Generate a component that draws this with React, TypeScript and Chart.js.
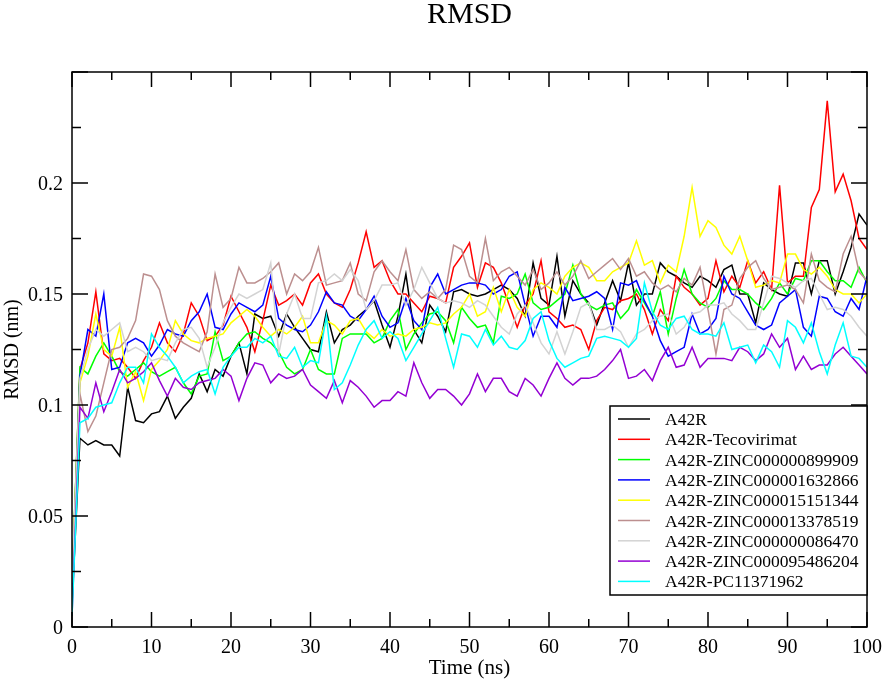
import { useEffect, useRef } from "react";
import { Chart, registerables } from "chart.js";

Chart.register(...registerables);

const timeNs = [
  0, 1, 2, 3, 4, 5, 6, 7, 8, 9, 10, 11, 12, 13, 14, 15, 16, 17, 18, 19, 20,
  21, 22, 23, 24, 25, 26, 27, 28, 29, 30, 31, 32, 33, 34, 35, 36, 37, 38, 39, 40,
  41, 42, 43, 44, 45, 46, 47, 48, 49, 50, 51, 52, 53, 54, 55, 56, 57, 58, 59, 60,
  61, 62, 63, 64, 65, 66, 67, 68, 69, 70, 71, 72, 73, 74, 75, 76, 77, 78, 79, 80,
  81, 82, 83, 84, 85, 86, 87, 88, 89, 90, 91, 92, 93, 94, 95, 96, 97, 98, 99, 100,
];

const seriesNames = [
  "A42R",
  "A42R-Tecovirimat",
  "A42R-ZINC000000899909",
  "A42R-ZINC000001632866",
  "A42R-ZINC000015151344",
  "A42R-ZINC000013378519",
  "A42R-ZINC000000086470",
  "A42R-ZINC000095486204",
  "A42R-PC11371962",
];

const seriesColors = [
  "#000000",
  "#ff0000",
  "#00ff00",
  "#0000ff",
  "#ffff00",
  "#bc8f8f",
  "#d3d3d3",
  "#9400d3",
  "#00ffff",
];

const a42r = [
  0.01, 0.085, 0.082, 0.084, 0.082, 0.082, 0.077, 0.108, 0.093, 0.092, 0.096,
  0.097, 0.104, 0.094, 0.099, 0.103, 0.114, 0.106, 0.116, 0.113, 0.122,
  0.128, 0.114, 0.141, 0.139, 0.14, 0.131, 0.141, 0.135, 0.13, 0.125,
  0.124, 0.142, 0.128, 0.134, 0.136, 0.14, 0.143, 0.147, 0.136, 0.126,
  0.14, 0.159, 0.134, 0.128, 0.145, 0.14, 0.133, 0.151, 0.152, 0.15,
  0.149, 0.15, 0.152, 0.154, 0.152, 0.148, 0.14, 0.164, 0.148, 0.145,
  0.167, 0.14, 0.156, 0.15, 0.146, 0.136, 0.146, 0.156, 0.147, 0.164,
  0.145, 0.15, 0.15, 0.164, 0.16, 0.158, 0.155, 0.153, 0.158, 0.156,
  0.153, 0.161, 0.163, 0.15, 0.15, 0.137, 0.155, 0.152, 0.15, 0.149,
  0.164, 0.164, 0.15, 0.165, 0.165, 0.15, 0.16, 0.171, 0.186, 0.181,
];

const tecovirimat = [
  0.02, 0.116, 0.128, 0.151, 0.123, 0.12, 0.121, 0.117, 0.112, 0.12, 0.126,
  0.137, 0.128, 0.124, 0.132, 0.146, 0.14, 0.129, 0.131, 0.136, 0.149,
  0.142, 0.135, 0.124, 0.138, 0.154, 0.145, 0.147, 0.15, 0.145, 0.155,
  0.159, 0.15, 0.146, 0.144, 0.152, 0.164, 0.178, 0.162, 0.165, 0.156,
  0.15, 0.15, 0.146, 0.142, 0.149, 0.148, 0.146, 0.162, 0.167, 0.173,
  0.153, 0.164, 0.162, 0.155, 0.145, 0.135, 0.145, 0.15, 0.165, 0.142,
  0.139, 0.135, 0.136, 0.134, 0.125, 0.138, 0.144, 0.143, 0.147, 0.148,
  0.15, 0.143, 0.132, 0.143, 0.138, 0.158, 0.153, 0.15, 0.145, 0.148,
  0.165, 0.151, 0.158, 0.153, 0.165, 0.155, 0.16, 0.152, 0.199, 0.155,
  0.158, 0.158, 0.189, 0.197, 0.237, 0.196, 0.204, 0.192, 0.175, 0.17,
];

const zinc899909 = [
  0.02, 0.117, 0.114, 0.122, 0.128, 0.122, 0.115, 0.113, 0.116, 0.119, 0.115,
  0.113, 0.115, 0.117, 0.11, 0.105, 0.113, 0.114, 0.133, 0.12, 0.122,
  0.128, 0.132, 0.133, 0.13, 0.128, 0.124, 0.117, 0.114, 0.116, 0.125,
  0.116, 0.114, 0.114, 0.13, 0.132, 0.132, 0.132, 0.128, 0.13, 0.138,
  0.143, 0.125, 0.132, 0.137, 0.141, 0.142, 0.138, 0.128, 0.144, 0.139,
  0.135, 0.136, 0.128, 0.149, 0.148, 0.15, 0.159, 0.146, 0.143, 0.144,
  0.147, 0.15, 0.163, 0.15, 0.145, 0.143, 0.145, 0.146, 0.139, 0.143,
  0.152, 0.146, 0.14, 0.151, 0.132, 0.148, 0.161, 0.15, 0.146, 0.144,
  0.148, 0.156, 0.152, 0.152, 0.15, 0.146, 0.143, 0.148, 0.155, 0.15,
  0.157, 0.156, 0.165, 0.165, 0.16, 0.156, 0.156, 0.153, 0.162, 0.155,
];

const zinc1632866 = [
  0.015, 0.113, 0.134, 0.131, 0.15, 0.116, 0.117, 0.128, 0.13, 0.128, 0.122,
  0.127, 0.134, 0.132, 0.131, 0.138, 0.142, 0.15, 0.135, 0.134, 0.141,
  0.146, 0.144, 0.142, 0.145, 0.158, 0.139, 0.136, 0.134, 0.133, 0.136,
  0.142, 0.151, 0.146, 0.145, 0.14, 0.138, 0.143, 0.149, 0.14, 0.135,
  0.137, 0.148, 0.138, 0.134, 0.153, 0.159, 0.15, 0.152, 0.154, 0.155,
  0.155, 0.154, 0.15, 0.152, 0.158, 0.16, 0.145, 0.131, 0.14, 0.14,
  0.135, 0.153, 0.147, 0.148, 0.149, 0.151, 0.148, 0.134, 0.155, 0.154,
  0.156, 0.147, 0.14, 0.129, 0.122, 0.124, 0.126, 0.141, 0.132, 0.134,
  0.139, 0.158, 0.15, 0.148, 0.142, 0.136, 0.134, 0.136, 0.146, 0.149,
  0.152, 0.135, 0.131, 0.149, 0.148, 0.142, 0.14, 0.148, 0.143, 0.158,
];

const zinc15151344 = [
  0.02, 0.11, 0.122, 0.141, 0.125, 0.122, 0.135, 0.108, 0.115, 0.102, 0.116,
  0.12, 0.125, 0.138, 0.132, 0.129, 0.128, 0.13, 0.131, 0.132, 0.137,
  0.14, 0.143, 0.14, 0.135, 0.131, 0.134, 0.132, 0.135, 0.14, 0.128,
  0.128, 0.138, 0.136, 0.132, 0.138, 0.139, 0.133, 0.13, 0.134, 0.131,
  0.132, 0.131, 0.134, 0.135, 0.137, 0.136, 0.137, 0.141, 0.144, 0.15,
  0.14, 0.142, 0.153, 0.142, 0.152, 0.144, 0.14, 0.152, 0.155, 0.153,
  0.15, 0.158, 0.162, 0.164, 0.162, 0.156, 0.156, 0.16, 0.162, 0.164,
  0.174, 0.163, 0.165, 0.155, 0.163, 0.16, 0.176, 0.198, 0.176, 0.183,
  0.18, 0.172, 0.168, 0.176, 0.165, 0.153, 0.154, 0.156, 0.155, 0.168,
  0.168, 0.161, 0.159, 0.162, 0.158, 0.152, 0.15, 0.15, 0.146, 0.15,
];

const zinc13378519 = [
  0.02, 0.105, 0.088, 0.095, 0.11, 0.125, 0.126, 0.13, 0.138, 0.159, 0.158,
  0.152, 0.138, 0.131, 0.128, 0.126, 0.124, 0.133, 0.159, 0.144, 0.148,
  0.162, 0.155, 0.155, 0.157, 0.16, 0.164, 0.15, 0.159, 0.156, 0.16,
  0.171, 0.154, 0.155, 0.156, 0.164, 0.15, 0.147, 0.16, 0.165, 0.16,
  0.156, 0.17, 0.152, 0.148, 0.151, 0.148, 0.152, 0.172, 0.17, 0.158,
  0.155, 0.175, 0.156, 0.16, 0.162, 0.158, 0.154, 0.161, 0.152, 0.155,
  0.16, 0.154, 0.158, 0.165, 0.157, 0.16, 0.163, 0.166, 0.161, 0.166,
  0.158, 0.16, 0.155, 0.152, 0.154, 0.151, 0.157, 0.154, 0.162, 0.143,
  0.123, 0.143, 0.145, 0.157, 0.162, 0.165, 0.157, 0.152, 0.153, 0.154,
  0.152, 0.146, 0.168, 0.156, 0.153, 0.151, 0.168, 0.176, 0.16, 0.156,
];

const zinc86470 = [
  0.02, 0.112, 0.125, 0.134, 0.131, 0.134, 0.137, 0.124, 0.126, 0.124, 0.12,
  0.121, 0.12, 0.128, 0.134, 0.135, 0.13, 0.117, 0.126, 0.137, 0.144,
  0.15, 0.148, 0.15, 0.152, 0.164, 0.123, 0.141, 0.15, 0.139, 0.139,
  0.155, 0.156, 0.159, 0.156, 0.161, 0.156, 0.143, 0.147, 0.154, 0.154,
  0.155, 0.145, 0.152, 0.162, 0.155, 0.148, 0.146, 0.147, 0.146, 0.144,
  0.147, 0.145, 0.14, 0.135, 0.132, 0.141, 0.145, 0.137, 0.128, 0.123,
  0.133, 0.123, 0.133, 0.144, 0.146, 0.134, 0.134, 0.136, 0.133, 0.126,
  0.132, 0.134, 0.138, 0.14, 0.141, 0.132, 0.135, 0.141, 0.142, 0.145,
  0.145, 0.146, 0.141, 0.138, 0.134, 0.134, 0.146, 0.158, 0.157, 0.155,
  0.153, 0.156, 0.157, 0.15, 0.143, 0.144, 0.143, 0.14, 0.135, 0.131,
];

const zinc95486204 = [
  0.005, 0.099, 0.094, 0.11, 0.097, 0.106, 0.116, 0.11, 0.112, 0.115, 0.119,
  0.111, 0.104, 0.112, 0.108, 0.107, 0.11, 0.111, 0.112, 0.116, 0.113,
  0.102, 0.112, 0.119, 0.118, 0.11, 0.114, 0.112, 0.113, 0.116, 0.109,
  0.106, 0.103, 0.111, 0.101, 0.111, 0.108, 0.104, 0.099, 0.102, 0.102,
  0.106, 0.104, 0.119, 0.11, 0.103, 0.107, 0.107, 0.104, 0.1, 0.105,
  0.114, 0.106, 0.112, 0.112, 0.106, 0.104, 0.112, 0.109, 0.104, 0.112,
  0.119, 0.112, 0.109, 0.112, 0.112, 0.113, 0.116, 0.12, 0.125, 0.112,
  0.113, 0.116, 0.111, 0.12, 0.126, 0.117, 0.118, 0.126, 0.117, 0.121,
  0.121, 0.121, 0.12, 0.126, 0.124, 0.12, 0.123, 0.132, 0.126, 0.13,
  0.116, 0.122, 0.116, 0.118, 0.118, 0.123, 0.126, 0.122, 0.118, 0.114,
];

const pc11371962 = [
  0.005, 0.092, 0.094, 0.099, 0.1, 0.101, 0.11, 0.117, 0.117, 0.11, 0.132,
  0.126, 0.122, 0.117, 0.11, 0.113, 0.115, 0.116, 0.105, 0.117, 0.122,
  0.126, 0.126, 0.13, 0.128, 0.131, 0.122, 0.121, 0.126, 0.117, 0.12,
  0.119, 0.14, 0.107, 0.11, 0.118, 0.127, 0.134, 0.138, 0.13, 0.133,
  0.13, 0.12, 0.126, 0.132, 0.138, 0.144, 0.13, 0.117, 0.132, 0.131,
  0.126, 0.134, 0.127, 0.131, 0.126, 0.125, 0.129, 0.139, 0.142, 0.129,
  0.121, 0.117, 0.119, 0.121, 0.122, 0.13, 0.131, 0.13, 0.129, 0.126,
  0.13, 0.155, 0.142, 0.136, 0.134, 0.139, 0.14, 0.134, 0.132, 0.132,
  0.131, 0.137, 0.125, 0.126, 0.127, 0.119, 0.127, 0.124, 0.117, 0.138,
  0.135, 0.128, 0.137, 0.124, 0.114, 0.127, 0.137, 0.122, 0.121, 0.117,
];

const seriesValues = [
  a42r,
  tecovirimat,
  zinc899909,
  zinc1632866,
  zinc15151344,
  zinc13378519,
  zinc86470,
  zinc95486204,
  pc11371962,
];

const xMajorTicks = [0, 10, 20, 30, 40, 50, 60, 70, 80, 90, 100];
const xMinorTicks = [5, 15, 25, 35, 45, 55, 65, 75, 85, 95];
const yMajorTicks = [0, 0.05, 0.1, 0.15, 0.2, 0.25];
const yMinorTicks = [0.025, 0.075, 0.125, 0.175, 0.225];

const FONT = "'Liberation Serif', 'Times New Roman', Times, serif";

const decorPlugin = {
  id: "decor",
  afterDatasetsDraw(chart: any) {
    const { ctx, chartArea: a, scales } = chart;
    const x = scales.x;
    const y = scales.y;
    ctx.save();
    ctx.strokeStyle = "#000";
    ctx.lineWidth = 1.5;
    ctx.beginPath();
    const tick = (v: number, len: number, horiz: boolean) => {
      if (horiz) {
        const px = x.getPixelForValue(v);
        ctx.moveTo(px, a.bottom);
        ctx.lineTo(px, a.bottom - len);
        ctx.moveTo(px, a.top);
        ctx.lineTo(px, a.top + len);
      } else {
        const py = y.getPixelForValue(v);
        ctx.moveTo(a.left, py);
        ctx.lineTo(a.left + len, py);
        ctx.moveTo(a.right, py);
        ctx.lineTo(a.right - len, py);
      }
    };
    xMajorTicks.forEach((v) => tick(v, 15, true));
    xMinorTicks.forEach((v) => tick(v, 8, true));
    yMajorTicks.forEach((v) => tick(v, 16, false));
    yMinorTicks.forEach((v) => tick(v, 9, false));
    ctx.stroke();
    ctx.strokeRect(a.left, a.top, a.right - a.left, a.bottom - a.top);

    // legend
    const lw = 257;
    const lh = 189;
    const lx = a.right - lw;
    const ly = a.top + 334;
    ctx.fillStyle = "#fff";
    ctx.fillRect(lx, ly, lw, lh);
    ctx.strokeStyle = "#000";
    ctx.lineWidth = 1.5;
    ctx.strokeRect(lx, ly, lw, lh);
    ctx.font = `17.5px ${FONT}`;
    ctx.textAlign = "left";
    ctx.textBaseline = "middle";
    seriesNames.forEach((name, i) => {
      const ry = ly + 13 + i * 20.3;
      ctx.strokeStyle = seriesColors[i];
      ctx.lineWidth = 1.5;
      ctx.beginPath();
      ctx.moveTo(lx + 8, ry);
      ctx.lineTo(lx + 40, ry);
      ctx.stroke();
      ctx.fillStyle = "#000";
      ctx.fillText(name, lx + 55, ry + 1.5);
    });

    // title
    ctx.fillStyle = "#000";
    ctx.font = `30px ${FONT}`;
    ctx.textAlign = "center";
    ctx.textBaseline = "alphabetic";
    ctx.fillText("RMSD", (a.left + a.right) / 2, 23);
    ctx.restore();
  },
};

export default function App() {
  const canvasRef = useRef<HTMLCanvasElement | null>(null);

  useEffect(() => {
    document.body.style.margin = "0";
    const canvas = canvasRef.current;
    if (!canvas) return;
    const chart = new Chart(canvas, {
      type: "line",
      data: {
        labels: timeNs,
        datasets: seriesNames.map((name, i) => ({
          label: name,
          data: seriesValues[i],
          borderColor: seriesColors[i],
          backgroundColor: seriesColors[i],
          borderWidth: 1.5,
          pointRadius: 0,
          tension: 0,
          fill: false,
          order: -i,
        })),
      },
      options: {
        responsive: false,
        animation: false,
        devicePixelRatio: 1,
        layout: { padding: { left: 0, right: 19, top: 72, bottom: 0 } },
        plugins: {
          legend: { display: false },
          title: { display: false },
          tooltip: { enabled: false },
        },
        scales: {
          x: {
            type: "linear",
            min: 0,
            max: 100,
            grid: { display: false, drawTicks: false },
            border: { display: false },
            ticks: {
              stepSize: 10,
              padding: 9,
              color: "#000",
              font: { family: FONT, size: 20 },
              maxRotation: 0,
              autoSkip: false,
            },
            title: {
              display: true,
              text: "Time (ns)",
              color: "#000",
              font: { family: FONT, size: 21 },
              padding: { top: 0, bottom: 2 },
            },
            afterFit: (scale: any) => {
              scale.height = 56;
              scale.paddingLeft = 0;
              scale.paddingRight = 0;
            },
          },
          y: {
            type: "linear",
            min: 0,
            max: 0.25,
            grid: { display: false, drawTicks: false },
            border: { display: false },
            ticks: {
              stepSize: 0.05,
              padding: 9,
              labelOffset: 2,
              color: "#000",
              font: { family: FONT, size: 20 },
              autoSkip: false,
              callback: (v: any) => {
                const n = Number(v);
                if (n > 0.24) return "";
                return String(Number(n.toFixed(3)));
              },
            },
            title: {
              display: true,
              text: "RMSD (nm)",
              color: "#000",
              font: { family: FONT, size: 20 },
              padding: { top: 1, bottom: 0 },
            },
            afterFit: (scale: any) => {
              scale.width = 72;
              scale.paddingTop = 0;
              scale.paddingBottom = 0;
            },
          },
        },
      },
      plugins: [decorPlugin],
    } as any);
    return () => chart.destroy();
  }, []);

  return (
    <div style={{ width: 886, height: 683 }}>
      <canvas ref={canvasRef} width={886} height={683} style={{ display: "block" }} />
    </div>
  );
}
